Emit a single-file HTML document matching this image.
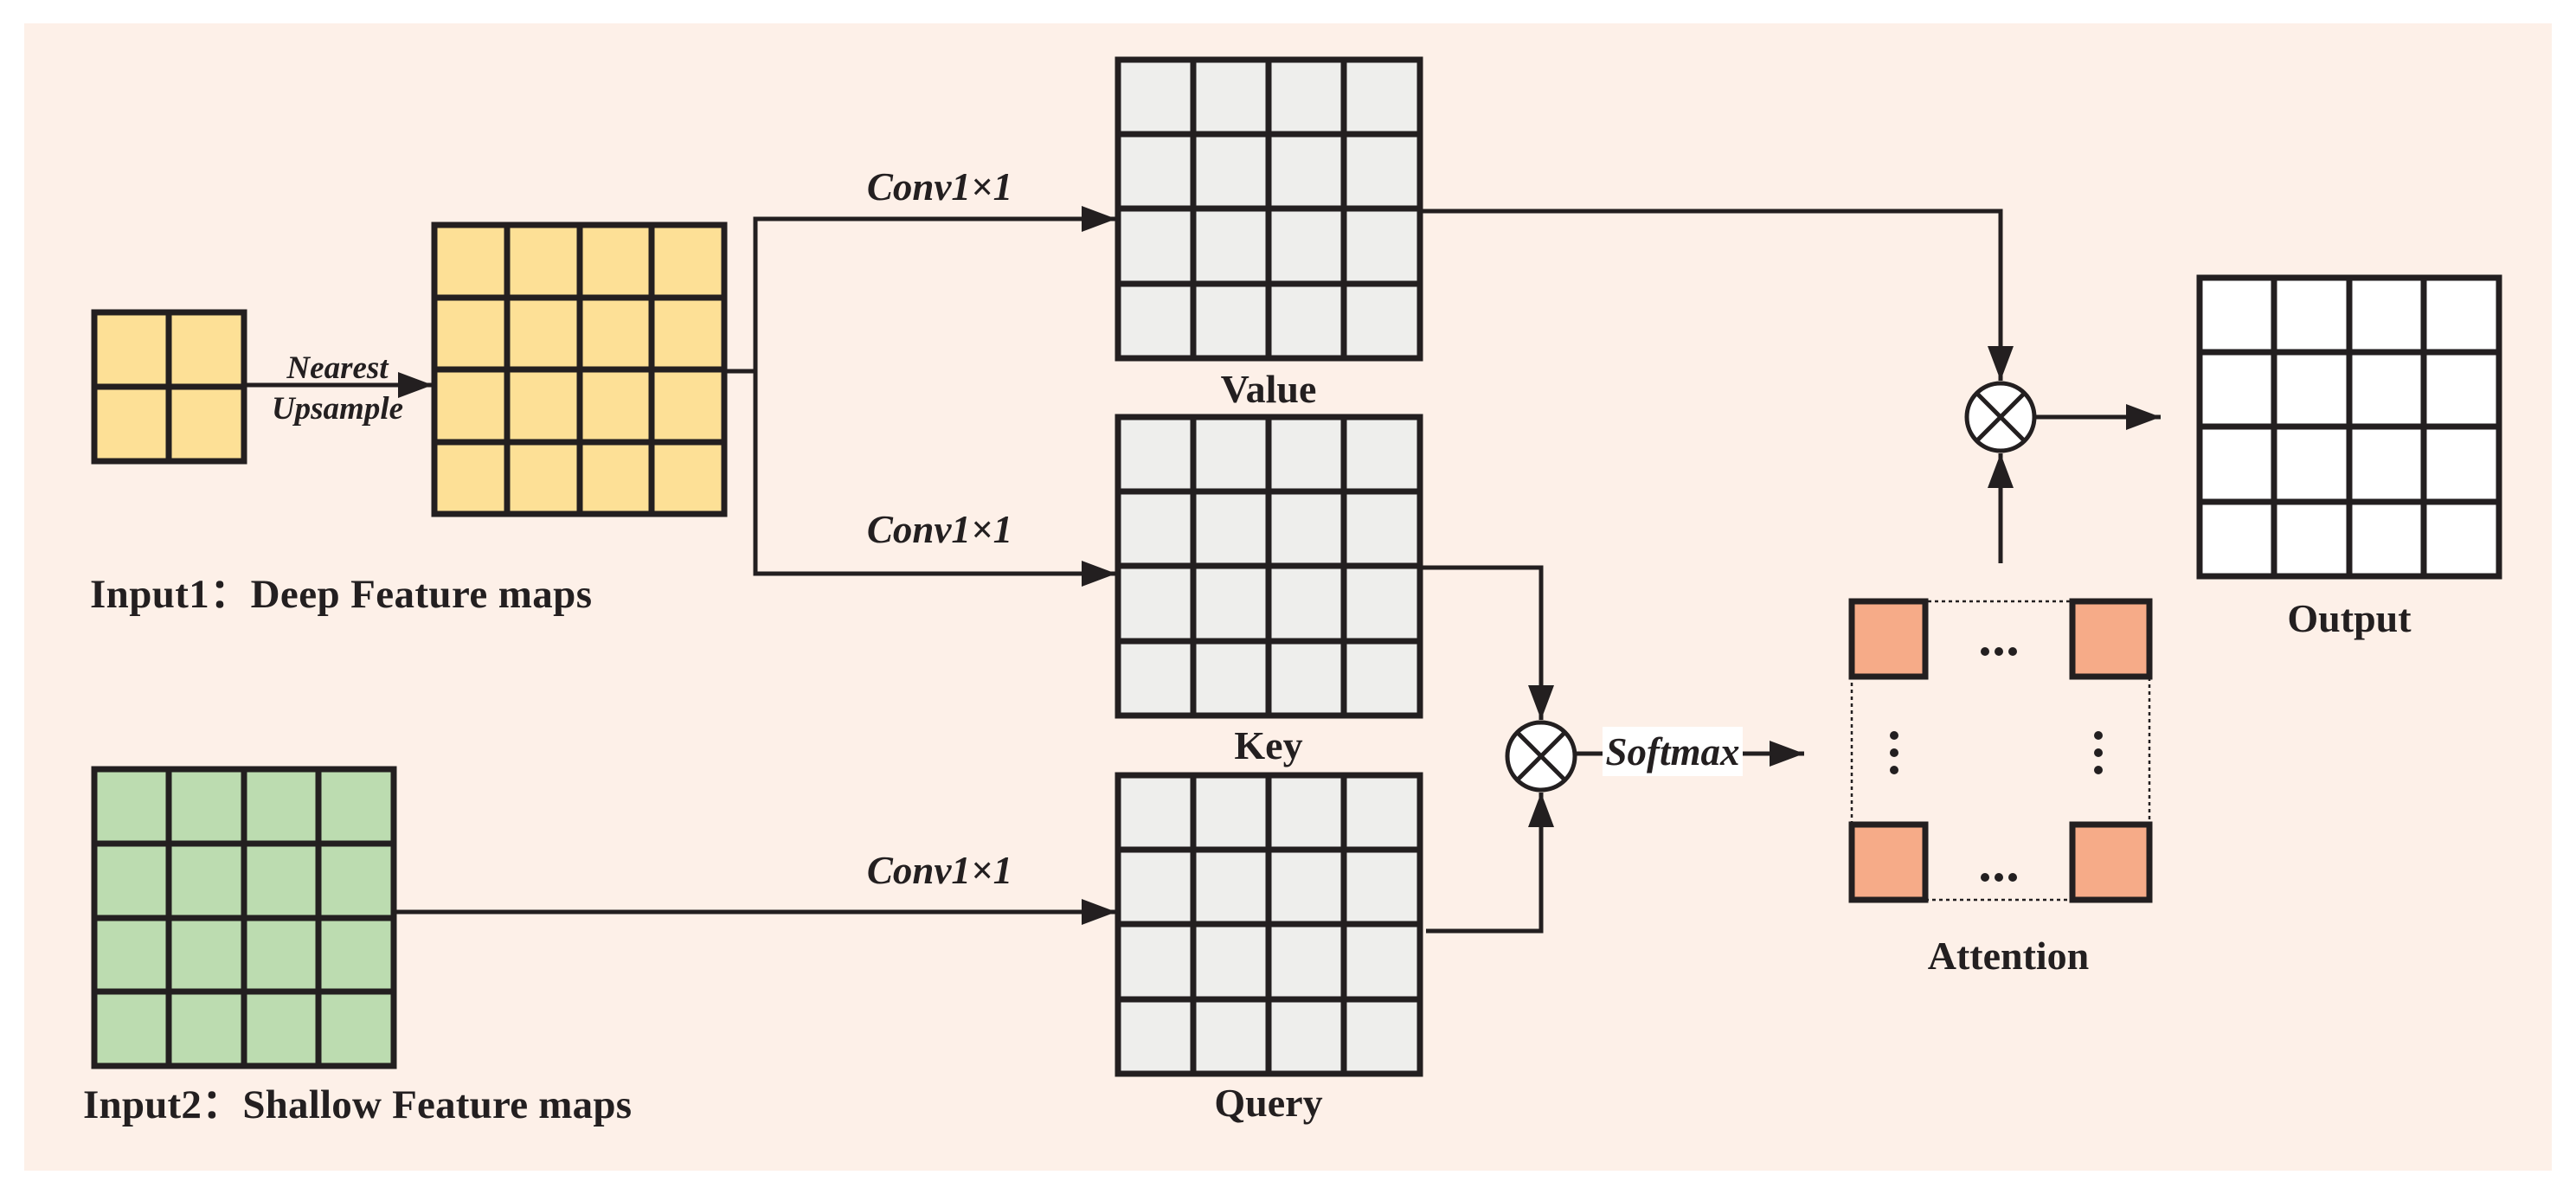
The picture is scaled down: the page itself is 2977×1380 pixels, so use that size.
<!DOCTYPE html>
<html><head><meta charset="utf-8"><style>html,body{margin:0;padding:0;background:#fff}svg{display:block}</style></head><body>
<svg width="2977" height="1380" viewBox="0 0 2977 1380" xmlns="http://www.w3.org/2000/svg">
<defs><marker id="a" markerWidth="8" markerHeight="6" refX="8" refY="3" orient="auto" markerUnits="strokeWidth"><path d="M0,0 L8,3 L0,6 Z" fill="#231f20"/></marker></defs>
<rect x="28" y="27" width="2921" height="1326" fill="#fdf0e8"/>
<g stroke="#231f20" stroke-width="7" stroke-linecap="square">
<rect x="109" y="361" width="173" height="172" fill="#fde096"/>
<path d="M195,361V533M109,447H282"/>
<rect x="502" y="260" width="335" height="334" fill="#fde096"/>
<path d="M586,260V594M670,260V594M753,260V594M502,344H837M502,427H837M502,511H837"/>
<rect x="109" y="889" width="346" height="343" fill="#bcdcb0"/>
<path d="M195,889V1232M282,889V1232M368,889V1232M109,975H455M109,1061H455M109,1146H455"/>
<rect x="1292" y="69" width="349" height="345" fill="#eeeeec"/>
<path d="M1379,69V414M1466,69V414M1553,69V414M1292,155H1641M1292,241H1641M1292,328H1641"/>
<rect x="1292" y="482" width="349" height="345" fill="#eeeeec"/>
<path d="M1379,482V827M1466,482V827M1553,482V827M1292,568H1641M1292,654H1641M1292,741H1641"/>
<rect x="1292" y="896" width="349" height="345" fill="#eeeeec"/>
<path d="M1379,896V1241M1466,896V1241M1553,896V1241M1292,982H1641M1292,1068H1641M1292,1155H1641"/>
<rect x="2542" y="321" width="346" height="345" fill="#ffffff"/>
<path d="M2628,321V666M2715,321V666M2801,321V666M2542,407H2888M2542,493H2888M2542,580H2888"/>
<rect x="2140" y="695" width="85" height="87" fill="#f6ab88"/>
<rect x="2395" y="695" width="89" height="87" fill="#f6ab88"/>
<rect x="2140" y="953" width="85" height="87" fill="#f6ab88"/>
<rect x="2395" y="953" width="89" height="87" fill="#f6ab88"/>
</g>
<rect x="2140" y="695" width="344" height="345" fill="none" stroke="#231f20" stroke-width="2.5" stroke-dasharray="4,4"/>
<g fill="#231f20">
<circle cx="2294" cy="753" r="5"/><circle cx="2310" cy="753" r="5"/><circle cx="2326" cy="753" r="5"/>
<circle cx="2294" cy="1014" r="5"/><circle cx="2310" cy="1014" r="5"/><circle cx="2326" cy="1014" r="5"/>
<circle cx="2189" cy="850" r="5"/><circle cx="2189" cy="870" r="5"/><circle cx="2189" cy="890" r="5"/>
<circle cx="2425" cy="850" r="5"/><circle cx="2425" cy="870" r="5"/><circle cx="2425" cy="890" r="5"/>
</g>
<g stroke="#231f20" stroke-width="5" fill="none">
<path d="M282,445H500" marker-end="url(#a)"/>
<path d="M837,429H873V253H1290" marker-end="url(#a)"/>
<path d="M873,429V663H1290" marker-end="url(#a)"/>
<path d="M455,1054H1290" marker-end="url(#a)"/>
<path d="M1641,244H2312V440" marker-end="url(#a)"/>
<path d="M2312,651V524" marker-end="url(#a)"/>
<path d="M2352,482H2497" marker-end="url(#a)"/>
<path d="M1641,656H1781V832" marker-end="url(#a)"/>
<path d="M1648,1076H1781V916" marker-end="url(#a)"/>
<path d="M1821,871H2085" marker-end="url(#a)"/>
</g>
<g stroke="#231f20" stroke-width="5" fill="#fff">
<circle cx="2312" cy="482" r="39"/>
<circle cx="1781" cy="874" r="39"/>
</g>
<g stroke="#231f20" stroke-width="5">
<path d="M2284,454L2340,510M2340,454L2284,510"/>
<path d="M1753,846L1809,902M1809,846L1753,902"/>
</g>
<rect x="1852" y="840" width="162" height="57" fill="#fff"/>
<g font-family="'Liberation Serif', serif" font-weight="bold" fill="#231f20">
<g font-style="italic" font-size="45" text-anchor="middle">
<text x="1086" y="231">Conv1×1</text>
<text x="1086" y="627">Conv1×1</text>
<text x="1086" y="1021">Conv1×1</text>
<text x="1933" y="884">Softmax</text>
<text x="390" y="437" font-size="37">Nearest</text>
<text x="390" y="484" font-size="37">Upsample</text>
</g>
<g font-size="47" xml:space="preserve">
<text x="104" y="702" textLength="580">Input1：Deep  Feature maps</text>
<text x="96" y="1292" textLength="634">Input2：Shallow  Feature maps</text>
</g>
<g font-size="46" text-anchor="middle">
<text x="1466" y="465">Value</text>
<text x="1466" y="877">Key</text>
<text x="1466" y="1290">Query</text>
<text x="2321" y="1120">Attention</text>
<text x="2715" y="730">Output</text>
</g>
</g>
</svg>
</body></html>
